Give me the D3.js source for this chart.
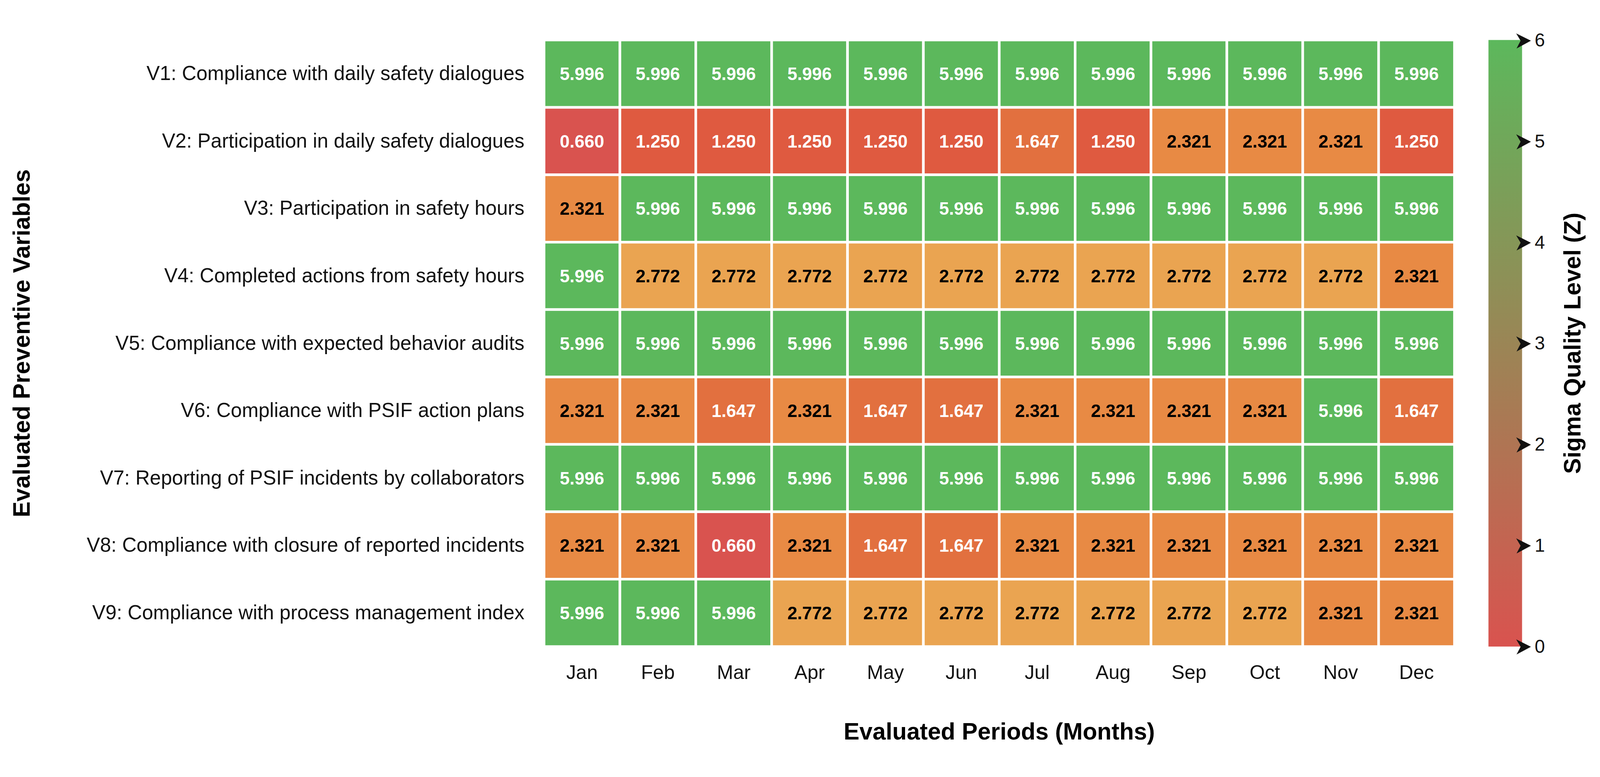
<!DOCTYPE html>
<html>
<head>
<meta charset="utf-8">
<script src="https://cdn.jsdelivr.net/npm/d3@7"></script>
<style>
  html, body { margin: 0; padding: 0; background: #fff; overflow: hidden; width: 100%; height: 100%; }
  svg { display: block; }
  text { font-family: "Liberation Sans", Arial, Helvetica, sans-serif; }
</style>
</head>
<body>
<svg id="chart" viewBox="0 0 4332 1990" preserveAspectRatio="xMidYMid meet" style="width:100vw;height:100vh"></svg>
<script>
// Months on the x axis
const months = ['Jan', 'Feb', 'Mar', 'Apr', 'May', 'Jun', 'Jul', 'Aug', 'Sep', 'Oct', 'Nov', 'Dec']

// Preventive variables on the y axis
const variables = [
	'V1: Compliance with daily safety dialogues',
	'V2: Participation in daily safety dialogues',
	'V3: Participation in safety hours',
	'V4: Completed actions from safety hours',
	'V5: Compliance with expected behavior audits',
	'V6: Compliance with PSIF action plans',
	'V7: Reporting of PSIF incidents by collaborators',
	'V8: Compliance with closure of reported incidents',
	'V9: Compliance with process management index'
]

// Sigma level (Z) per variable, Jan..Dec
const v1 = [5.996, 5.996, 5.996, 5.996, 5.996, 5.996, 5.996, 5.996, 5.996, 5.996, 5.996, 5.996]
const v2 = [0.660, 1.250, 1.250, 1.250, 1.250, 1.250, 1.647, 1.250, 2.321, 2.321, 2.321, 1.250]
const v3 = [2.321, 5.996, 5.996, 5.996, 5.996, 5.996, 5.996, 5.996, 5.996, 5.996, 5.996, 5.996]
const v4 = [5.996, 2.772, 2.772, 2.772, 2.772, 2.772, 2.772, 2.772, 2.772, 2.772, 2.772, 2.321]
const v5 = [5.996, 5.996, 5.996, 5.996, 5.996, 5.996, 5.996, 5.996, 5.996, 5.996, 5.996, 5.996]
const v6 = [2.321, 2.321, 1.647, 2.321, 1.647, 1.647, 2.321, 2.321, 2.321, 2.321, 5.996, 1.647]
const v7 = [5.996, 5.996, 5.996, 5.996, 5.996, 5.996, 5.996, 5.996, 5.996, 5.996, 5.996, 5.996]
const v8 = [2.321, 2.321, 0.660, 2.321, 1.647, 1.647, 2.321, 2.321, 2.321, 2.321, 2.321, 2.321]
const v9 = [5.996, 5.996, 5.996, 2.772, 2.772, 2.772, 2.772, 2.772, 2.772, 2.772, 2.321, 2.321]
const rows = [v1, v2, v3, v4, v5, v6, v7, v8, v9]

// Colorbar ticks
const colorbarTicks = [0, 1, 2, 3, 4, 5, 6]

// Flatten into cells
const cells = []
rows.forEach((vals, i) => {
	vals.forEach((v, j) => {
		cells.push({ variable: variables[i], month: months[j], value: v })
	})
})

const svg = d3.select('#chart')
svg.append('rect').attr('width', 4332).attr('height', 1990).attr('fill', '#fff')

// Heatmap area
const gridLeft = 1473, gridRight = 3938, gridTop = 51, gridBottom = 1694

const x = d3.scaleBand().domain(months).range([gridLeft, gridRight])
const y = d3.scaleBand().domain(variables).range([gridTop, gridBottom])

// Cell colour: piecewise scale through the sigma levels
const cellColor = d3.scaleLinear()
	.domain([0.660, 1.250, 1.647, 2.321, 2.772, 5.996])
	.range(['#d9534f', '#df5a40', '#e2703f', '#e88a44', '#eaa451', '#5cb85c'])
	.clamp(true)

const textColor = v => (v >= 2 && v < 4) ? '#000' : '#fff'

const g = svg.append('g')

g.selectAll('.cell')
	.data(cells)
	.enter()
	.append('rect')
	.attr('class', 'cell')
	.attr('x', d => x(d.month))
	.attr('y', d => y(d.variable))
	.attr('width', x.bandwidth())
	.attr('height', y.bandwidth())
	.attr('fill', d => cellColor(d.value))
	.attr('stroke', '#fff')
	.attr('stroke-width', 7)

g.selectAll('.cell-label')
	.data(cells)
	.enter()
	.append('text')
	.attr('class', 'cell-label')
	.attr('x', d => x(d.month) + x.bandwidth() / 2)
	.attr('y', d => y(d.variable) + y.bandwidth() / 2)
	.attr('dy', '0.36em')
	.attr('text-anchor', 'middle')
	.attr('font-size', 48)
	.attr('font-weight', 'bold')
	.attr('fill', d => textColor(d.value))
	.text(d => d3.format('.3f')(d.value))

// Y axis (variable names)
const yAxis = svg.append('g')
	.attr('transform', `translate(${gridLeft},0)`)
	.call(d3.axisLeft(y).tickSize(0).tickPadding(53))
yAxis.select('.domain').remove()
yAxis.selectAll('text')
	.attr('font-size', 54)
	.attr('font-family', '"Liberation Sans", Arial, sans-serif')
	.attr('fill', '#111')

// X axis (months)
const xAxis = svg.append('g')
	.attr('transform', `translate(0,${gridBottom})`)
	.call(d3.axisBottom(x).tickSize(0).tickPadding(50))
xAxis.select('.domain').remove()
xAxis.selectAll('text')
	.attr('font-size', 53)
	.attr('font-family', '"Liberation Sans", Arial, sans-serif')
	.attr('fill', '#111')

// Axis titles
svg.append('text')
	.attr('x', (gridLeft + gridRight) / 2)
	.attr('y', 1946)
	.attr('text-anchor', 'middle')
	.attr('font-size', 64)
	.attr('font-weight', 'bold')
	.text('Evaluated Periods (Months)')

svg.append('text')
	.attr('transform', `translate(80,${(gridTop + gridBottom) / 2}) rotate(-90)`)
	.attr('text-anchor', 'middle')
	.attr('font-size', 64)
	.attr('font-weight', 'bold')
	.text('Evaluated Preventive Variables')

// Colorbar
const cbX = 4030, cbW = 91
const defs = svg.append('defs')
const grad = defs.append('linearGradient')
	.attr('id', 'cbGrad')
	.attr('x1', 0).attr('y1', 1).attr('x2', 0).attr('y2', 0)
grad.append('stop').attr('offset', '0%').attr('stop-color', '#d9534f')
grad.append('stop').attr('offset', '100%').attr('stop-color', '#5cb85c')

svg.append('rect')
	.attr('x', cbX)
	.attr('y', gridTop)
	.attr('width', cbW)
	.attr('height', gridBottom - gridTop)
	.attr('fill', 'url(#cbGrad)')

const cbScale = d3.scaleLinear().domain([0, 6]).range([gridBottom, gridTop + 1.5])
const cbAxis = svg.append('g')
	.attr('transform', `translate(${cbX + cbW},0)`)
	.call(d3.axisRight(cbScale).tickValues(colorbarTicks).tickSize(0).tickPadding(34).tickFormat(d3.format('d')))
cbAxis.select('.domain').remove()
cbAxis.selectAll('text')
	.attr('font-size', 50)
	.attr('font-family', '"Liberation Sans", Arial, sans-serif')
	.attr('fill', '#111')

// Arrow-shaped tick markers
cbAxis.selectAll('.tick')
	.append('path')
	.attr('d', 'M -16 -20 L 24 0 L -15 21 L -4 0 Z')
	.attr('fill', '#111')

svg.append('text')
	.attr('transform', `translate(4279,${(gridTop + gridBottom) / 2}) rotate(-90)`)
	.attr('text-anchor', 'middle')
	.attr('font-size', 64)
	.attr('font-weight', 'bold')
	.text('Sigma Quality Level (Z)')
</script>
</body>
</html>
